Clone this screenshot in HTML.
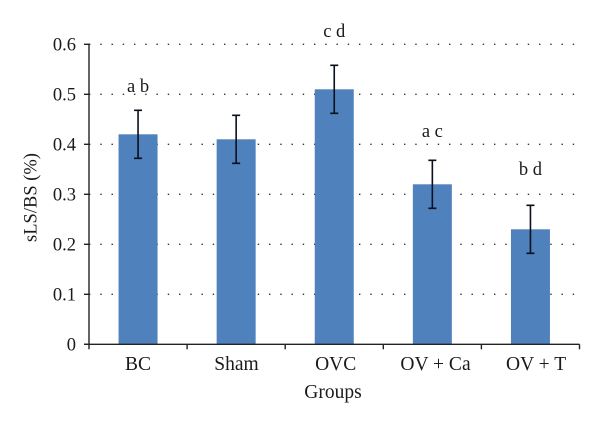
<!DOCTYPE html>
<html>
<head>
<meta charset="utf-8">
<style>
html,body{margin:0;padding:0;background:#fff;}
svg{display:block;}
text{font-family:"Liberation Serif",serif;fill:#1a1a1a;}
</style>
</head>
<body>
<svg id="chart" width="600" height="423" viewBox="0 0 600 423" xmlns="http://www.w3.org/2000/svg">
<rect x="0" y="0" width="600" height="423" fill="#ffffff"/>
<text x="0" y="0" transform="translate(36.5,197.5) rotate(-90)" text-anchor="middle" font-size="18.5">sLS/BS (%)</text>
<text x="333" y="398" text-anchor="middle" font-size="19.5">Groups</text>
</svg>
<script>
const categories = ["BC", "Sham", "OVC", "OV + Ca", "OV + T"];
const seriesValues = [0.42, 0.41, 0.51, 0.32, 0.23];
const errorValues = [0.048, 0.048, 0.048, 0.048, 0.048];
const significance = ["a b", "", "c d", "a c", "b d"];
const significanceValues = [0.505, 0, 0.615, 0.415, 0.339];
const yTicks = [0, 0.1, 0.2, 0.3, 0.4, 0.5, 0.6];
const yTickLabels = ["0", "0.1", "0.2", "0.3", "0.4", "0.5", "0.6"];

const svg = document.getElementById('chart');
const NS = 'http://www.w3.org/2000/svg';
const plot = {left: 89, right: 579.5, top: 44.3, bottom: 344.3};
const yMax = 0.6;
function yScale(v) { return plot.bottom - (v / yMax) * (plot.bottom - plot.top); }
function bandWidth() { return (plot.right - plot.left) / categories.length; }
function xCenter(i) { return plot.left + bandWidth() * (i + 0.5); }
function labelX(i) { return xCenter(i) + i * i * 0.35; }
function make(tag, attrs) {
  const el = document.createElementNS(NS, tag);
  for (const k in attrs) el.setAttribute(k, attrs[k]);
  svg.appendChild(el);
  return el;
}

// gridlines
yTicks.forEach(function (t, i) {
  if (t === 0) return;
  const g = make('line', {x1: 89, x2: 574.5, y1: yScale(t), y2: yScale(t), stroke: '#333', 'stroke-width': 1.4, 'stroke-dasharray': '1.4 9.85'});
  
  
});

// bars
const barWidth = 39;
categories.forEach(function (c, i) {
  const b = make('rect', {x: xCenter(i) - barWidth / 2, y: yScale(seriesValues[i]), width: barWidth, height: plot.bottom - yScale(seriesValues[i]), fill: '#4f81bd'});
  
  
});

// error bars
categories.forEach(function (c, i) {
  const cx = xCenter(i);
  const hi = yScale(seriesValues[i] + errorValues[i]);
  const lo = yScale(seriesValues[i] - errorValues[i]);
  const d = 'M' + cx + ' ' + hi + 'V' + lo + 'M' + (cx - 4) + ' ' + hi + 'H' + (cx + 4) + 'M' + (cx - 4) + ' ' + lo + 'H' + (cx + 4);
  const e = make('path', {d: d, stroke: '#0a101c', 'stroke-width': 1.6, fill: 'none'});
  
  
});

// axes
const yAxis = make('line', {x1: plot.left, x2: plot.left, y1: plot.top - 0.7, y2: plot.bottom + 5, stroke: '#222', 'stroke-width': 1.4});


const xAxis = make('line', {x1: plot.left - 5, x2: plot.right, y1: plot.bottom, y2: plot.bottom, stroke: '#222', 'stroke-width': 1.4});



// y ticks and labels
yTicks.forEach(function (t, i) {
  const y = yScale(t);
  const tick = make('line', {x1: plot.left - 5, x2: plot.left, y1: y, y2: y, stroke: '#222', 'stroke-width': 1.4});
  
  
  const label = make('text', {x: 76, y: y + 6, 'text-anchor': 'end', 'font-size': 18.5});
  
  
  label.textContent = yTickLabels[i];
});

// x ticks
for (let i = 1; i <= categories.length; i++) {
  const x = plot.left + bandWidth() * i;
  const tick = make('line', {x1: x, x2: x, y1: plot.bottom, y2: plot.bottom + 5, stroke: '#222', 'stroke-width': 1.4});
  
  
}

// category labels
categories.forEach(function (c, i) {
  const label = make('text', {x: labelX(i), y: 370, 'text-anchor': 'middle', 'font-size': 19.5});
  
  
  label.textContent = c;
});

// significance letters
significance.forEach(function (s, i) {
  if (!s) return;
  const label = make('text', {x: xCenter(i), y: yScale(significanceValues[i]), 'text-anchor': 'middle', 'font-size': 18.5});
  
  
  label.textContent = s;
});
</script>
</body>
</html>
